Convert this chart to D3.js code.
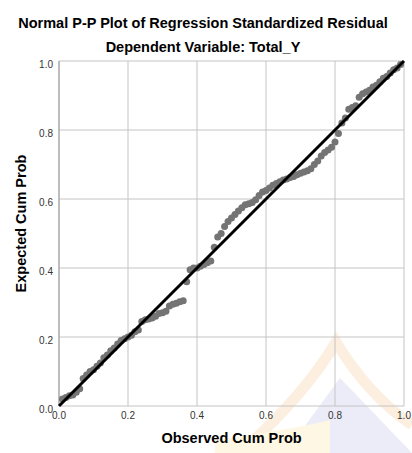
<!DOCTYPE html>
<html>
<head>
<meta charset="utf-8">
<script src="https://cdn.jsdelivr.net/npm/d3@7"></script>
<style>
body { margin: 0; background: #fff; }
svg { display: block; }
text { font-family: "Liberation Sans", Arial, sans-serif; }
</style>
</head>
<body>
<script>
// observed cumulative probability (x) and expected cumulative probability (y)
var observed = [0.01,0.02,0.03,0.04,0.05,0.06,0.07,0.08,0.09,0.10,
    0.11,0.12,0.13,0.14,0.15,0.16,0.17,0.18,0.19,0.20,
    0.21,0.22,0.23,0.24,0.25,0.26,0.27,0.28,0.29,0.30,
    0.31,0.32,0.33,0.34,0.35,0.36,0.37,0.38,0.39,0.40,
    0.41,0.42,0.43,0.44,0.45,0.46,0.47,0.48,0.49,0.50,
    0.51,0.52,0.53,0.54,0.55,0.56,0.57,0.58,0.59,0.60,
    0.61,0.62,0.63,0.64,0.65,0.66,0.67,0.68,0.69,0.70,
    0.71,0.72,0.73,0.74,0.75,0.76,0.77,0.78,0.79,0.80,
    0.81,0.82,0.83,0.84,0.85,0.86,0.87,0.88,0.89,0.90,
    0.91,0.92,0.93,0.94,0.95,0.96,0.97,0.98,0.99];
var expected = [0.02,0.025,0.03,0.032,0.04,0.05,0.08,0.09,0.10,0.105,
    0.115,0.125,0.14,0.148,0.16,0.168,0.18,0.19,0.195,0.20,
    0.205,0.215,0.22,0.245,0.25,0.252,0.255,0.26,0.268,0.27,
    0.275,0.29,0.295,0.298,0.302,0.305,0.36,0.395,0.40,0.40,
    0.405,0.41,0.415,0.42,0.46,0.49,0.50,0.52,0.535,0.545,
    0.555,0.565,0.575,0.583,0.586,0.59,0.598,0.61,0.62,0.625,
    0.632,0.64,0.645,0.65,0.655,0.658,0.662,0.665,0.67,0.675,
    0.678,0.682,0.688,0.70,0.71,0.725,0.735,0.742,0.75,0.765,
    0.79,0.82,0.835,0.86,0.865,0.87,0.895,0.905,0.91,0.915,
    0.925,0.93,0.94,0.95,0.955,0.965,0.975,0.98,0.99];
var tickValues = [0.0, 0.2, 0.4, 0.6, 0.8, 1.0];

var title = "Normal P-P Plot of Regression Standardized Residual";
var subtitle = "Dependent Variable: Total_Y";
var xTitle = "Observed Cum Prob";
var yTitle = "Expected Cum Prob";

var width = 412, height = 453;
var margin = {top: 61, right: 8, bottom: 47, left: 59};

var svg = d3.select("body").append("svg")
    .attr("width", width)
    .attr("height", height);

var x = d3.scaleLinear().domain([0, 1]).range([margin.left, width - margin.right]);
var y = d3.scaleLinear().domain([0, 1]).range([height - margin.bottom, margin.top]);

// faint logo watermark in the lower right corner
var wm = svg.append("g").attr("opacity", 0.16);
wm.append("path")
    .attr("d", "M285,453 L340,378 L412,453 Z")
    .attr("fill", "#8f8fe0");
wm.append("path")
    .attr("d", "M240,453 Q305,395 336,342 Q368,395 412,425")
    .attr("fill", "none")
    .attr("stroke", "#f0a040")
    .attr("stroke-width", 11);
wm.append("path")
    .attr("d", "M215,453 L215,440 Q300,428 330,420 L330,453 Z")
    .attr("fill", "#f5d060");

// grid
svg.append("g").selectAll("line.vg").data(tickValues).enter().append("line")
    .attr("x1", function (d) { return x(d); })
    .attr("x2", function (d) { return x(d); })
    .attr("y1", y(0))
    .attr("y2", y(1))
    .attr("stroke", "#c4c4c4")
    .attr("stroke-width", 1);
svg.append("g").selectAll("line.hg").data(tickValues).enter().append("line")
    .attr("x1", x(0))
    .attr("x2", x(1))
    .attr("y1", function (d) { return y(d); })
    .attr("y2", function (d) { return y(d); })
    .attr("stroke", "#c4c4c4")
    .attr("stroke-width", 1);

// left axis line
svg.append("line")
    .attr("x1", x(0)).attr("x2", x(0))
    .attr("y1", y(0)).attr("y2", y(1))
    .attr("stroke", "#999").attr("stroke-width", 1);

// tick labels
svg.append("g").selectAll("text").data(tickValues).enter().append("text")
    .attr("x", x(0) - 6)
    .attr("y", function (d) { return y(d) + 7; })
    .attr("text-anchor", "end")
    .attr("font-size", "10px")
    .attr("fill", "#333")
    .text(function (d) { return d3.format(".1f")(d); });
svg.append("g").selectAll("text").data(tickValues).enter().append("text")
    .attr("x", function (d) { return x(d); })
    .attr("y", y(0) + 13)
    .attr("text-anchor", "middle")
    .attr("font-size", "10px")
    .attr("fill", "#333")
    .text(function (d) { return d3.format(".1f")(d); });

// points
var pts = d3.zip(observed, expected);
svg.append("g").selectAll("circle").data(pts).enter().append("circle")
    .attr("cx", function (d) { return x(d[0]); })
    .attr("cy", function (d) { return y(d[1]); })
    .attr("r", 3.5)
    .attr("fill", "#747474");

// reference line
svg.append("line")
    .attr("x1", x(0)).attr("y1", y(0))
    .attr("x2", x(1)).attr("y2", y(1))
    .attr("stroke", "#000")
    .attr("stroke-width", 3);

// titles
svg.append("text")
    .attr("x", 203).attr("y", 28)
    .attr("text-anchor", "middle")
    .attr("font-size", "14.5px").attr("font-weight", "bold")
    .text(title);
svg.append("text")
    .attr("x", 203).attr("y", 52)
    .attr("text-anchor", "middle")
    .attr("font-size", "14.5px").attr("font-weight", "bold")
    .text(subtitle);
svg.append("text")
    .attr("x", (x(0) + x(1)) / 2).attr("y", 443)
    .attr("text-anchor", "middle")
    .attr("font-size", "14.5px").attr("font-weight", "bold")
    .text(xTitle);
svg.append("text")
    .attr("transform", "translate(26," + ((y(0) + y(1)) / 2 - 10) + ") rotate(-90)")
    .attr("text-anchor", "middle")
    .attr("font-size", "14.5px").attr("font-weight", "bold")
    .text(yTitle);
</script>
</body>
</html>
